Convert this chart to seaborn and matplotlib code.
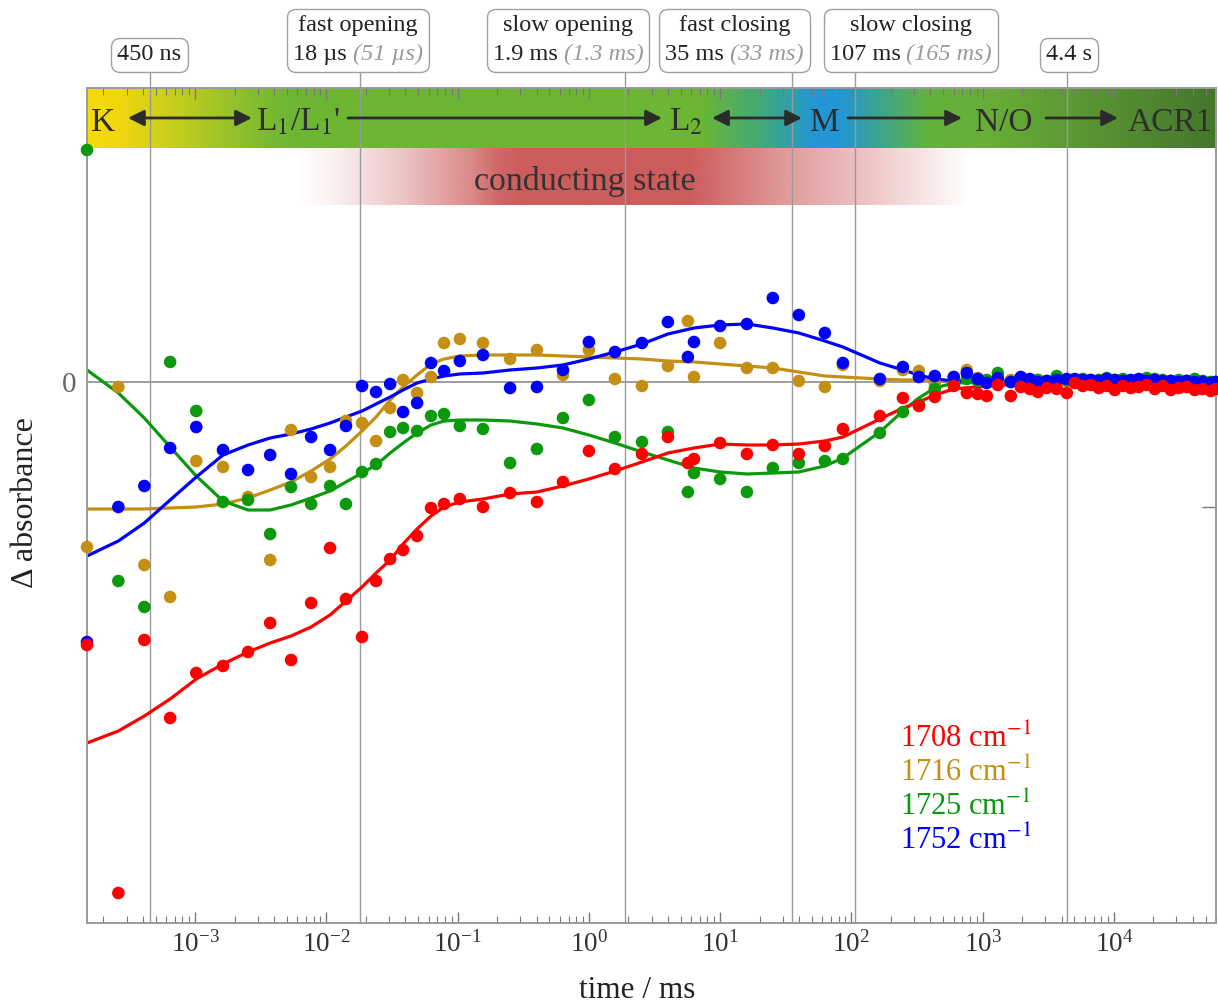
import numpy as np
import pandas as pd
import matplotlib
matplotlib.use("Agg")
import matplotlib.pyplot as plt
import matplotlib.ticker as mticker
import seaborn as sns
from matplotlib.offsetbox import TextArea, VPacker, HPacker, AnnotationBbox
from matplotlib.colors import LinearSegmentedColormap, to_rgb
from matplotlib.lines import Line2D

# ---------------- data ----------------
# time axis (ms) shared by all four bands
time_ms = [1.5e-4, 2.6e-4, 4.1e-4, 6.45e-4, 1.02e-3, 1.63e-3, 2.53e-3, 3.73e-3, 5.38e-3, 7.65e-3,
           1.067e-2, 1.41e-2, 1.87e-2, 2.39e-2, 3.06e-2, 3.84e-2, 4.91e-2, 6.27e-2, 7.88e-2, 0.104,
           0.156, 0.251, 0.402, 0.635, 1.0, 1.58, 2.54, 4.0, 5.68, 6.32,
           10.0, 16.0, 25.2, 39.8, 62.8, 86.2, 165, 247, 327, 432,
           603, 758, 919, 1076, 1306, 1640, 1954, 2288, 2633, 3083,
           3674, 4379, 5038, 5796, 6672, 7674, 8830, 10160, 11690, 13450,
           15470, 17810, 20490, 23570, 27130, 31220, 35920, 41320, 47540, 54700, 59730]

# measured absorbance changes (arbitrary units)
abs_1708 = [-263, -511, -258, -336, -291, -284, -270, -241, -278, -221,
            -166, -217, -255, -199, -177, -168, -154, -126, -122, -117,
            -125, -111, -120, -100, -69, -87, -72, -55, -81, -77,
            -61, -72, -63, -72, -64, -47, -34, -16, -24, -15,
            -4, -11, -12, -14, -3, -14, -5, -7, -10, -6,
            -7, -11, -1, -4, -3, -6, -4, -8, -4, -6,
            -5, -3, -7, -4, -8, -6, -5, -8, -7, -9, -7]
abs_1716 = [-165, -5, -183, -215, -79, -85, -115, -178, -48, -95,
            -85, -39, -41, -59, -26, 2, -11, 5, 39, 43,
            39, 23, 32, 7, 32, 3, -4, 16, 61, 5,
            39, 14, 14, 1, -5, 17, 1, 12, 11, -1,
            5, 12, 4, 1, 0, 2, 1, -1, 2, 0,
            3, 1, 2, 0, 1, 2, 0, 1, 2, 1,
            0, 1, 2, 0, 1, 0, 1, 0, 1, -1, 0]
abs_1725 = [232, -199, -225, 20, -29, -120, -118, -152, -105, -122,
            -104, -122, -90, -82, -50, -46, -49, -34, -32, -44,
            -47, -81, -67, -36, -18, -55, -60, -50, -110, -91,
            -97, -110, -86, -81, -79, -77, -51, -30, -22, -7,
            -1, 3, 1, 2, 9, 0, 3, 1, 2, 1,
            6, 2, 1, 3, 2, 2, 4, 2, 3, 1,
            2, 4, 3, 2, 1, 2, 1, 3, 1, 0, 0]
abs_1752 = [-260, -125, -104, -66, -45, -68, -88, -73, -92, -55,
            -68, -44, -4, -10, -2, -30, -21, 19, 11, 21,
            27, -6, -5, 12, 40, 30, 39, 60, 25, 40,
            56, 58, 84, 67, 49, 19, 3, 15, 5, 6,
            5, 9, 3, -1, 4, 0, 5, 3, 0, 1,
            2, 3, 3, 2, 2, 1, 3, 2, 1, 2,
            3, 1, 2, 1, 1, 0, 1, 0, 0, -1, 0]

# global-fit curves, read at these times
fit_time_ms = [1.5e-4, 2.6e-4, 4.1e-4, 6.45e-4, 1.02e-3, 1.63e-3, 2.53e-3, 3.73e-3, 5.38e-3, 7.65e-3,
               1.067e-2, 1.41e-2, 1.87e-2, 2.39e-2, 3.06e-2, 3.84e-2, 4.91e-2, 6.27e-2, 7.88e-2, 0.104,
               0.156, 0.251, 0.402, 0.635, 1.0, 1.58, 2.54, 4.0, 6.32, 10.0,
               16.0, 25.2, 39.8, 62.8, 86.2, 165, 247, 327, 432, 603,
               1306, 3083, 10160, 59730]
fit_1708 = [-361, -349, -334, -317, -297, -282, -270, -261, -254, -245,
            -233, -219, -205, -191, -178, -162, -147, -134, -125, -120,
            -117, -112, -110, -104, -97, -89, -80, -71, -66, -62,
            -63, -63, -62, -59, -55, -37, -26, -20, -13, -7,
            -3, -2, -3, -6]
fit_1716 = [-127, -127, -127, -126, -125, -122, -116, -108, -100, -89,
            -77, -64, -49, -35, -18, -5, 7, 18, 23, 26,
            27, 27, 27, 26, 25, 24, 23, 21, 20, 18,
            16, 14, 10, 6, 5, 3, 2, 2, 2, 1,
            1, 1, 1, 0]
fit_1725 = [12, -11, -36, -65, -94, -119, -128, -128, -123, -116,
            -109, -100, -91, -83, -71, -61, -51, -43, -39, -38,
            -38, -39, -42, -46, -53, -61, -70, -78, -86, -90,
            -92, -91, -90, -84, -76, -50, -29, -16, -6, -1,
            0, 1, 1, 0]
fit_1752 = [-174, -159, -141, -118, -95, -73, -63, -56, -52, -47,
            -41, -35, -29, -22, -15, -8, -1, 3, 6, 8,
            9, 12, 14, 17, 23, 30, 38, 48, 54, 57,
            58, 54, 49, 41, 35, 19, 12, 7, 3, 1,
            1, 1, 1, 0]

bands = ["1708", "1716", "1725", "1752"]
band_labels = ["1708 cm$^{-1}$", "1716 cm$^{-1}$", "1725 cm$^{-1}$", "1752 cm$^{-1}$"]

# x tick positions (decades, ms)
x_major_ticks = [1e-3, 1e-2, 1e-1, 1e0, 1e1, 1e2, 1e3, 1e4]

# time constants (ms) and their annotation texts
time_constants_ms = [4.5e-4, 0.018, 1.9, 35, 107, 4400]
tc_titles = ["", "fast opening", "slow opening", "fast closing", "slow closing", ""]
tc_values = ["450 ns", "18 µs", "1.9 ms", "35 ms", "107 ms", "4.4 s"]
tc_alt = ["", "(51 µs)", "(1.3 ms)", "(33 ms)", "(165 ms)", ""]

state_labels = ["K", "L$_1$/L$_1$'", "L$_2$", "M", "N/O", "ACR1"]

# ---------------- style ----------------
sns.set_theme(style="white")
plt.rcParams["font.family"] = ["Liberation Serif", "DejaVu Serif"]
plt.rcParams["mathtext.fontset"] = "stix"
plt.rcParams["axes.unicode_minus"] = False

palette = {"1708": "#ff0000", "1716": "#c48f12", "1725": "#0c990c", "1752": "#0000ff"}
draw_order = ["1716", "1725", "1752", "1708"]
series = {"1708": abs_1708, "1716": abs_1716, "1725": abs_1725, "1752": abs_1752}
fits = {"1708": fit_1708, "1716": fit_1716, "1725": fit_1725, "1752": fit_1752}

points_df = pd.concat([pd.DataFrame({"time": time_ms, "absorbance": series[b], "band": b})
                       for b in draw_order], ignore_index=True)
fits_df = pd.concat([pd.DataFrame({"time": fit_time_ms, "absorbance": fits[b], "band": b})
                     for b in draw_order], ignore_index=True)

fig = plt.figure(figsize=(12.18, 10.07), dpi=100)
ax = fig.add_axes([0.07143, 0.08342, 0.92693, 0.82920])
ax.set_xscale("log")

# ---------------- plotting ----------------
sns.lineplot(data=fits_df, x="time", y="absorbance", hue="band", hue_order=draw_order,
             palette=palette, estimator=None, sort=True, lw=2.3, legend=False, ax=ax, zorder=2)
sns.scatterplot(data=points_df, x="time", y="absorbance", hue="band", hue_order=draw_order,
                palette=palette, s=82, edgecolor="none", linewidth=0, legend=False,
                ax=ax, zorder=3, clip_on=False)

ax.set_xlim(1.5e-4, 6.0e4)
ax.set_ylim(-541, 294)

# state gradient bar (axes-fraction positions)
bar_y0 = 0.9281
bar_cmap = LinearSegmentedColormap.from_list("states", [
    (0.0, "#f7d90a"), (0.0248, "#f0d70f"), (0.0824, "#bfcd1e"), (0.1444, "#86bc2e"),
    (0.1798, "#6cb634"), (0.5430, "#6cb634"), (0.5961, "#41aa78"), (0.6448, "#2396d6"),
    (0.6670, "#2396d6"), (0.7024, "#3ca58c"), (0.7467, "#64b23c"), (0.7998, "#68ae38"),
    (1.0, "#46762d")])
grad = np.linspace(0, 1, 1200)[None, :]
ax.imshow(grad, cmap=bar_cmap, extent=(0, 1, bar_y0, 1), transform=ax.transAxes,
          aspect="auto", zorder=0.2, interpolation="bilinear")

# conducting-state band with fading alpha
band_y0 = 0.8599
xs = np.linspace(0, 1, 1200)
a_pos = [0.0, 0.1869, 0.2152, 0.2772, 0.3392, 0.3658, 0.3835, 0.5341, 0.6227, 0.6935, 0.7803, 1.0]
a_val = [0.0, 0.0, 0.08, 0.35, 0.72, 0.95, 1.0, 1.0, 0.6, 0.35, 0.0, 0.0]
rgba = np.zeros((1, xs.size, 4))
rgba[0, :, :3] = to_rgb("#cd5c5c")
rgba[0, :, 3] = np.interp(xs, a_pos, a_val)
ax.imshow(rgba, extent=(0, 1, band_y0, bar_y0), transform=ax.transAxes,
          aspect="auto", zorder=0.2, interpolation="bilinear")
ax.text(0.4411, 0.8778, "conducting state", transform=ax.transAxes, ha="center",
        va="baseline", fontsize=24.5, color="#333333", zorder=4)

# state labels and arrows
state_x = [0.0142, 0.1869, 0.5306, 0.6537, 0.8122, 0.9593]
for lbl, sx in zip(state_labels, state_x):
    ax.text(sx, 0.9485, lbl, transform=ax.transAxes, ha="center", va="baseline",
            fontsize=24, color="#2e2e2e", zorder=4)
arrows = [(0.0363, 0.1461, "<|-|>"), (0.2312, 0.5093, "-|>"), (0.5536, 0.6333, "<|-|>"),
          (0.6740, 0.7750, "-|>"), (0.8494, 0.9132, "-|>")]
for x1, x2, st in arrows:
    ax.annotate("", xy=(x2, 0.9641), xytext=(x1, 0.9641), xycoords="axes fraction",
                arrowprops=dict(arrowstyle=st, color="#2b2b2b", lw=2, mutation_scale=24,
                                shrinkA=0, shrinkB=0), zorder=4)

# zero line and time-constant lines
ax.axhline(0, color="#8c8c8c", lw=1.2, zorder=0.6)
for tc in time_constants_ms:
    ax.axvline(tc, ymin=0, ymax=1.0192, color="#9a9a9a", lw=1.0, zorder=0.6, clip_on=False)

# annotation boxes
box_x = [0.0554, 0.2402, 0.4262, 0.5735, 0.7298, 0.8698]
for bx, title, val, alt in zip(box_x, tc_titles, tc_values, tc_alt):
    tp = dict(size=17.5, color="#222222")
    row = [TextArea(val, textprops=tp)]
    if alt:
        row.append(TextArea(alt, textprops=dict(size=17.5, color="#9a9a9a", style="italic")))
    children = []
    if title:
        children.append(TextArea(title, textprops=tp))
    children.append(HPacker(children=row, align="baseline", pad=0, sep=4))
    box = VPacker(children=children, align="center", pad=0, sep=6)
    ab = AnnotationBbox(box, (bx, 1.027), xycoords="axes fraction", box_alignment=(0.5, 0),
                        frameon=True, fontsize=17.5, annotation_clip=False,
                        bboxprops=dict(boxstyle="round,pad=0.25,rounding_size=0.35",
                                       ec="#a0a0a0", fc="white", lw=1.0))
    ax.add_artist(ab)

# axes styling
for sp in ax.spines.values():
    sp.set_color("#9a9a9a")
    sp.set_linewidth(1.4)
ax.xaxis.set_major_locator(mticker.FixedLocator(x_major_ticks))
ax.xaxis.set_major_formatter(mticker.LogFormatterSciNotation())
ax.xaxis.set_minor_locator(mticker.LogLocator(base=10, subs=np.arange(2, 10), numticks=20))
ax.xaxis.set_minor_formatter(mticker.NullFormatter())
ax.tick_params(axis="x", which="major", direction="in", top=True, bottom=True, length=8,
               width=1, color="#777777", labelsize=19.5, labelcolor="#333333", pad=6)
ax.tick_params(axis="x", which="minor", direction="in", top=True, bottom=True, length=5,
               width=0.8, color="#777777")
ax.set_yticks([0, -125])
ax.set_yticklabels(["0", ""])
ax.yaxis.set_minor_locator(mticker.NullLocator())
ax.tick_params(axis="y", which="both", direction="in", left=False, right=True, length=10,
               width=1, color="#777777", labelleft=True, labelright=False, labelsize=21,
               labelcolor="#666666", pad=8)

ax.set_xlabel("time / ms", fontsize=22.5, color="#222222")
ax.xaxis.set_label_coords(0.487, -0.0635)
ax.set_ylabel("Δ absorbance", fontsize=23, color="#222222")
ax.yaxis.set_label_coords(-0.0416, 0.504)

# legend (coloured text only)
handles = [Line2D([], [], linestyle="none") for _ in bands]
ax.legend(handles, band_labels, loc="upper left", bbox_to_anchor=(0.72, 0.239), frameon=False,
          handlelength=0, handletextpad=0, borderpad=0, borderaxespad=0, labelspacing=0.13,
          fontsize=22, labelcolor=[palette[b] for b in bands])

fig.savefig("out.png", dpi=100)
